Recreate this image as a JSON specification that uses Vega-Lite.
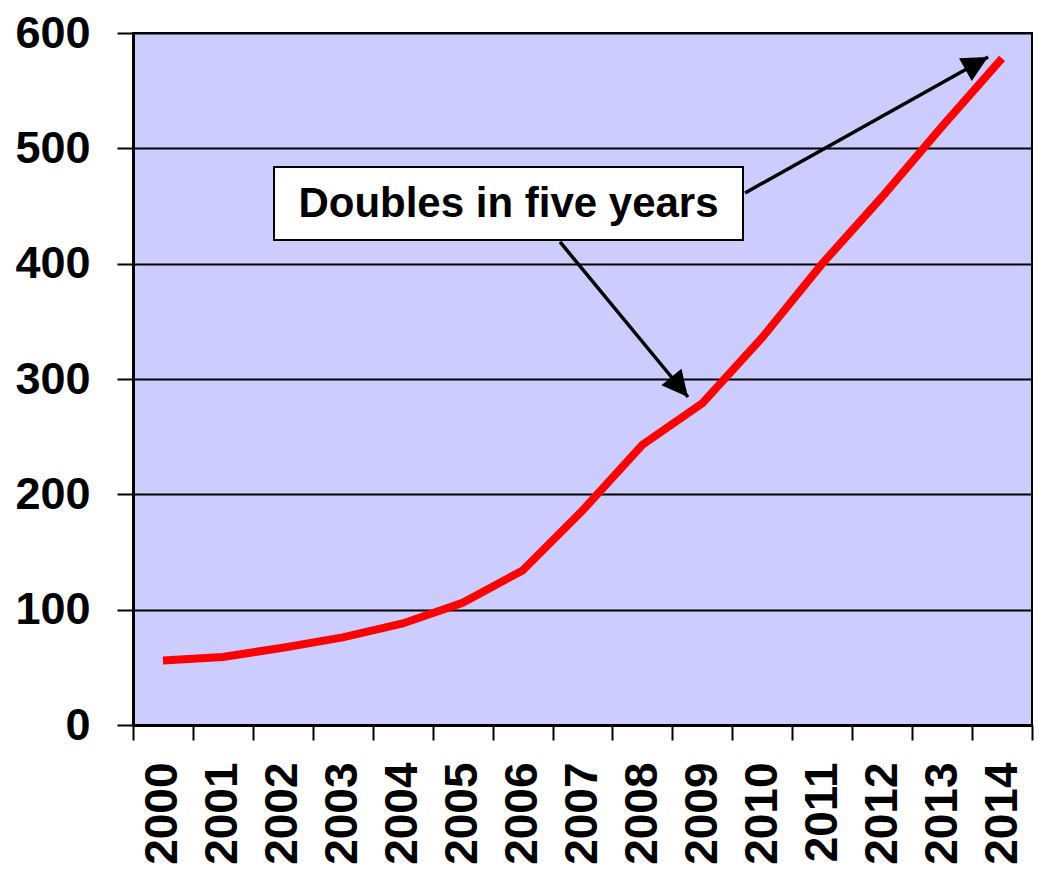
{
  "$schema": "https://vega.github.io/schema/vega-lite/v6.json",
  "width": 899,
  "height": 692,
  "autosize": {"type": "none"},
  "padding": {"left": 133, "top": 33, "right": 6, "bottom": 155},
  "background": "white",
  "config": {
    "view": {"fill": "#CCCCFF", "stroke": "black", "strokeWidth": 2},
    "font": "Liberation Sans"
  },
  "datasets": {
    "main": [
      {"year": "2000", "value": 56},
      {"year": "2001", "value": 59},
      {"year": "2002", "value": 67},
      {"year": "2003", "value": 76},
      {"year": "2004", "value": 88},
      {"year": "2005", "value": 106},
      {"year": "2006", "value": 134},
      {"year": "2007", "value": 186},
      {"year": "2008", "value": 243},
      {"year": "2009", "value": 279},
      {"year": "2010", "value": 336},
      {"year": "2011", "value": 400},
      {"year": "2012", "value": 458},
      {"year": "2013", "value": 519},
      {"year": "2014", "value": 578}
    ],
    "box": [
      {"x1": 2001.853, "x2": 2009.678, "y1": 420.5, "y2": 483.8, "xc": 2005.765, "yc": 451.5, "label": "Doubles in five years"}
    ],
    "arrows": [
      {"name": "a1", "x1": 2006.625, "y1": 418.8, "x2": 2008.76, "y2": 284.4},
      {"name": "a2", "x1": 2009.712, "y1": 461.3, "x2": 2013.767, "y2": 579.2}
    ]
  },
  "layer": [
    {
      "data": {"name": "main"},
      "mark": {"type": "line", "color": "#FF0000", "strokeWidth": 8, "strokeCap": "butt", "strokeJoin": "miter"},
      "encoding": {
        "x": {
          "field": "year", "type": "ordinal",
          "scale": {"type": "band", "paddingInner": 0, "paddingOuter": 0},
          "axis": {
            "title": null, "labelAngle": -90, "tickBand": "extent",
            "tickSize": 15, "tickWidth": 2, "tickColor": "black",
            "domainColor": "black", "domainWidth": 3,
            "labelFont": "Liberation Sans", "labelFontSize": 46, "labelFontWeight": "bold",
            "labelColor": "black", "labelPadding": 22
          }
        },
        "y": {
          "field": "value", "type": "quantitative",
          "scale": {"domain": [0, 600], "nice": false},
          "axis": {
            "title": null, "values": [0, 100, 200, 300, 400, 500, 600],
            "tickSize": 16, "tickWidth": 2, "tickColor": "black",
            "domainColor": "black", "domainWidth": 3,
            "grid": true, "gridColor": "black", "gridWidth": 2, "gridOpacity": 1,
            "labelFont": "Liberation Sans", "labelFontSize": 45, "labelFontWeight": "bold",
            "labelColor": "black", "labelPadding": 27
          }
        }
      }
    },
    {
      "layer": [
        {
          "data": {"name": "box"},
          "mark": {"type": "rect", "fill": "white", "stroke": "black", "strokeWidth": 2},
          "encoding": {
            "x": {"field": "x1", "type": "quantitative", "scale": {"domain": [1999.5, 2014.5], "nice": false, "zero": false}, "axis": null},
            "x2": {"field": "x2"},
            "y": {"field": "y1", "type": "quantitative"},
            "y2": {"field": "y2"}
          }
        },
        {
          "data": {"name": "box"},
          "mark": {"type": "text", "font": "Liberation Sans", "fontSize": 42, "fontWeight": "bold", "color": "black", "align": "center", "baseline": "middle"},
          "encoding": {
            "x": {"field": "xc", "type": "quantitative", "axis": null},
            "y": {"field": "yc", "type": "quantitative"},
            "text": {"field": "label"}
          }
        },
        {
          "data": {"name": "arrows"},
          "mark": {"type": "rule", "color": "black", "strokeWidth": 3.5},
          "encoding": {
            "x": {"field": "x1", "type": "quantitative", "axis": null},
            "y": {"field": "y1", "type": "quantitative"},
            "x2": {"field": "x2"},
            "y2": {"field": "y2"}
          }
        },
        {
          "data": {"name": "arrows"},
          "transform": [{"filter": "datum.name === 'a1'"}],
          "mark": {"type": "point", "shape": "M0,0L-0.5,1L0.5,1Z", "size": 2704, "filled": true, "fill": "black", "opacity": 1, "strokeWidth": 0, "angle": 140.4},
          "encoding": {
            "x": {"field": "x2", "type": "quantitative", "axis": null},
            "y": {"field": "y2", "type": "quantitative"}
          }
        },
        {
          "data": {"name": "arrows"},
          "transform": [{"filter": "datum.name === 'a2'"}],
          "mark": {"type": "point", "shape": "M0,0L-0.5,1L0.5,1Z", "size": 2704, "filled": true, "fill": "black", "opacity": 1, "strokeWidth": 0, "angle": 60.8},
          "encoding": {
            "x": {"field": "x2", "type": "quantitative", "axis": null},
            "y": {"field": "y2", "type": "quantitative"}
          }
        }
      ]
    }
  ],
  "resolve": {"scale": {"x": "independent"}, "axis": {"x": "independent"}}
}
